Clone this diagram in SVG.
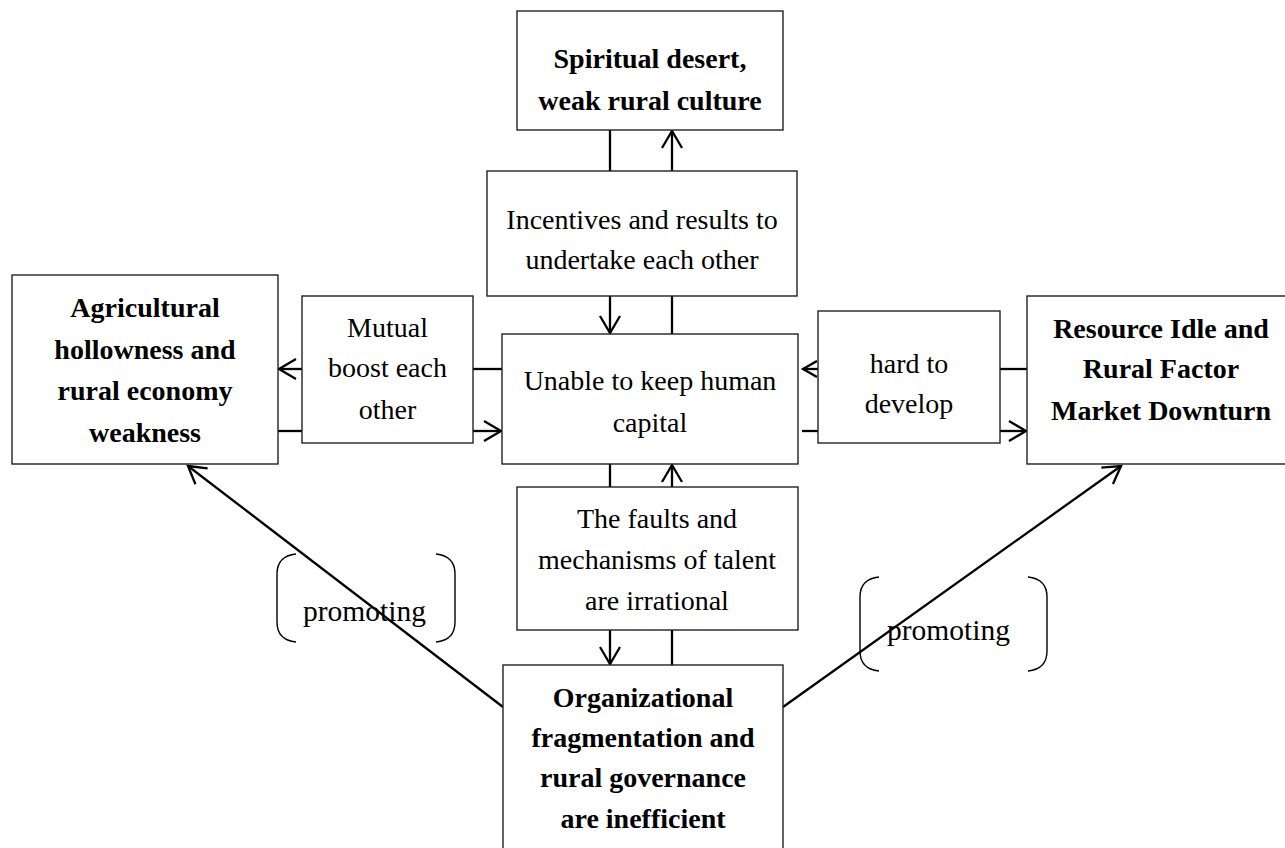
<svg xmlns="http://www.w3.org/2000/svg" width="1285" height="848" viewBox="0 0 1285 848">
<style>
.box{fill:#fff;stroke:#222;stroke-width:1.4}
.t{font-family:"Liberation Serif","Times New Roman",serif;font-size:28px;fill:#000;text-anchor:middle}
.b{font-family:"Liberation Serif","Times New Roman",serif;font-size:28px;font-weight:bold;fill:#000;text-anchor:middle}
.p{font-family:"Liberation Serif","Times New Roman",serif;font-size:29.5px;fill:#000}
.c{stroke:#000;stroke-width:2.3;fill:none}
.a{stroke:#000;stroke-width:2.3;fill:none;marker-end:url(#arr)}
.as{stroke:#000;stroke-width:2.3;fill:none;marker-end:url(#arrs)}
.br{stroke:#000;stroke-width:1.4;fill:none}
</style>
<defs>
<marker id="arr" markerUnits="userSpaceOnUse" markerWidth="30" markerHeight="30" viewBox="0 0 30 30" refX="19" refY="11" orient="auto" overflow="visible">
<path d="M2,1 L19,11 L2,21" fill="none" stroke="#000" stroke-width="2.3"/>
</marker>
<marker id="arrs" markerUnits="userSpaceOnUse" markerWidth="30" markerHeight="30" viewBox="0 0 30 30" refX="15" refY="9" orient="auto" overflow="visible">
<path d="M1,1 L15,9 L1,17" fill="none" stroke="#000" stroke-width="2.3"/>
</marker>
</defs>
<rect width="1285" height="848" fill="#fff"/>

<g id="connectors">
<line class="c" x1="610" y1="130" x2="610" y2="171"/>
<line class="a" x1="672" y1="171" x2="672" y2="131"/>
<line class="a" x1="610" y1="296" x2="610" y2="333"/>
<line class="c" x1="672" y1="296" x2="672" y2="334"/>
<line class="c" x1="610" y1="464" x2="610" y2="487"/>
<line class="a" x1="672" y1="487" x2="672" y2="465"/>
<line class="a" x1="610" y1="630" x2="610" y2="664"/>
<line class="c" x1="672" y1="630" x2="672" y2="665"/>
<line class="c" x1="473" y1="369" x2="502" y2="369"/>
<line class="a" x1="302" y1="369" x2="279" y2="369"/>
<line class="c" x1="278" y1="431" x2="302" y2="431"/>
<line class="a" x1="473" y1="431" x2="501" y2="431"/>
<line class="c" x1="1000" y1="369" x2="1027" y2="369"/>
<line class="as" x1="818" y1="369" x2="803" y2="369"/>
<line class="c" x1="802" y1="431" x2="818" y2="431"/>
<line class="a" x1="1000" y1="431" x2="1026" y2="431"/>
<line class="a" x1="503" y1="707" x2="188" y2="466"/>
<line class="a" x1="783" y1="707" x2="1121" y2="466"/>
</g>

<g id="node-spiritual">
<rect class="box" x="517" y="11" width="266" height="119"/>
<text class="b" x="650" y="68">Spiritual desert,</text>
<text class="b" x="650" y="110">weak rural culture</text>
</g>

<g id="node-incentives">
<rect class="box" x="487" y="171" width="310" height="125"/>
<text class="t" x="642" y="229">Incentives and results to</text>
<text class="t" x="642" y="269">undertake each other</text>
</g>

<g id="node-agricultural">
<rect class="box" x="12" y="275" width="266" height="189"/>
<text class="b" x="145" y="317">Agricultural</text>
<text class="b" x="145" y="359">hollowness and</text>
<text class="b" x="145" y="400">rural economy</text>
<text class="b" x="145" y="442">weakness</text>
</g>

<g id="node-mutual">
<rect class="box" x="302" y="296" width="171" height="147"/>
<text class="t" x="387.5" y="337">Mutual</text>
<text class="t" x="387.5" y="377">boost each</text>
<text class="t" x="387.5" y="419">other</text>
</g>

<g id="node-human">
<rect class="box" x="502" y="334" width="296" height="130"/>
<text class="t" x="650" y="390">Unable to keep human</text>
<text class="t" x="650" y="432">capital</text>
</g>

<g id="node-hard">
<rect class="box" x="818" y="311" width="182" height="132"/>
<text class="t" x="909" y="373">hard to</text>
<text class="t" x="909" y="413">develop</text>
</g>

<g id="node-resource">
<rect class="box" x="1027" y="296" width="270" height="168"/>
<text class="b" x="1161" y="338">Resource Idle and</text>
<text class="b" x="1161" y="378">Rural Factor</text>
<text class="b" x="1161" y="420">Market Downturn</text>
</g>

<g id="node-talent">
<rect class="box" x="517" y="487" width="281" height="143"/>
<text class="t" x="657" y="528">The faults and</text>
<text class="t" x="657" y="569">mechanisms of talent</text>
<text class="t" x="657" y="610">are irrational</text>
</g>

<g id="node-organizational">
<rect class="box" x="503" y="665" width="280" height="200"/>
<text class="b" x="643" y="707">Organizational</text>
<text class="b" x="643" y="747">fragmentation and</text>
<text class="b" x="643" y="787">rural governance</text>
<text class="b" x="643" y="828">are inefficient</text>
</g>

<g id="label-promoting-left">
<path class="br" d="M296,554 Q277,556 277,574 L277,622 Q277,640 296,642"/>
<path class="br" d="M436,554 Q455,556 455,574 L455,622 Q455,640 436,642"/>
<text class="p" x="303" y="621">promoting</text>
</g>

<g id="label-promoting-right">
<path class="br" d="M879,577 Q860,579 860,597 L860,651 Q860,669 879,671"/>
<path class="br" d="M1028,577 Q1047,579 1047,597 L1047,651 Q1047,669 1028,671"/>
<text class="p" x="887" y="640">promoting</text>
</g>
</svg>
